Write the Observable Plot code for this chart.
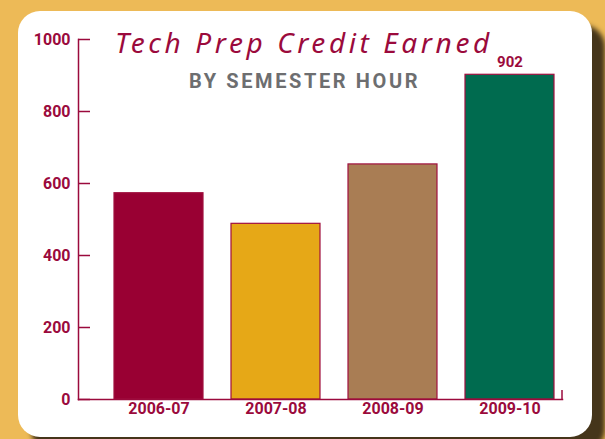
<!DOCTYPE html>
<html>
<head>
<meta charset="utf-8">
<script src="https://cdn.jsdelivr.net/npm/d3@7"></script>
<script src="https://cdn.jsdelivr.net/npm/@observablehq/plot@0.6"></script>
<style>
  html, body { margin: 0; padding: 0; }
  body { width: 605px; height: 439px; overflow: hidden; position: relative; background: #EDBA57; }
  #card { position: absolute; left: 18px; top: 11px; width: 574px; height: 426px; background: #fff;
          border-radius: 22px; box-shadow: 13px 14px 5px #45351A; }
  #chart { position: absolute; left: 0; top: 0; }
  #title { position: absolute; left: 115px; top: 28px; font-family: "Noto Sans", sans-serif; font-style: italic;
           font-size: 28px; letter-spacing: 3.6px; color: #9B0A3C; white-space: nowrap; line-height: 1; }
  #subtitle { position: absolute; left: 0; width: 609px; top: 71px; text-align: center; font-family: Roboto, sans-serif;
              font-weight: 700; font-size: 20px; letter-spacing: 2.6px; color: #6D6E70; white-space: nowrap; line-height: 1; }
</style>
</head>
<body>
<div id="card"></div>
<div id="chart"></div>
<div id="title">Tech Prep Credit Earned</div>
<div id="subtitle">BY SEMESTER HOUR</div>
<script>
const seasons = ["2006-07", "2007-08", "2008-09", "2009-10"];
const credits = [573, 488, 653, 902];
const barColors = ["#990033", "#E6A817", "#A97D54", "#006B4F"];
const showValue = [false, false, false, true];
const yTicks = [0, 200, 400, 600, 800, 1000];

const data = seasons.map((s, i) => ({season: s, credits: credits[i], show: showValue[i]}));
const axisColor = "#9B0A3C";

const endTick = (index, scales, values, dims) => {
  const x = dims.width - dims.marginRight;
  const line = document.createElementNS("http://www.w3.org/2000/svg", "line");
  line.setAttribute("x1", x); line.setAttribute("x2", x);
  line.setAttribute("y1", scales.y(0)); line.setAttribute("y2", scales.y(25));
  line.setAttribute("stroke", axisColor); line.setAttribute("stroke-width", 1.5);
  return line;
};

const chart = Plot.plot({
  width: 605,
  height: 439,
  marginLeft: 78,
  marginRight: 43,
  marginTop: 39,
  marginBottom: 40,
  style: {background: "transparent", color: axisColor, fontFamily: "Roboto, sans-serif", fontSize: "16px", fontWeight: "700"},
  x: {domain: seasons, range: [98.8, 570], paddingInner: 0.24, paddingOuter: 0.12, label: null},
  y: {domain: [0, 1000], label: null},
  color: {domain: seasons, range: barColors},
  marks: [
    Plot.barY(data, {x: "season", y: "credits", fill: "season", stroke: "#A0103F", strokeWidth: 1.2}),
    Plot.frame({anchor: "left", stroke: axisColor, strokeWidth: 1.5}),
    Plot.frame({anchor: "bottom", stroke: axisColor, strokeWidth: 1.5}),
    Plot.tickY(yTicks, {y: d => d, stroke: axisColor, strokeWidth: 1.5, insetRight: 472}),
    Plot.axisY({ticks: yTicks, tickFormat: d => String(d), tickSize: 0, tickPadding: 8, label: null, fill: axisColor}),
    Plot.axisX({tickSize: 0, tickPadding: 3, label: null, fill: axisColor}),
    Plot.text(data.filter(d => d.show), {x: "season", y: "credits", text: d => String(d.credits), dy: -13, fontSize: 15, fill: axisColor}),
    endTick
  ]
});
document.getElementById("chart").append(chart);
</script>
</body>
</html>
